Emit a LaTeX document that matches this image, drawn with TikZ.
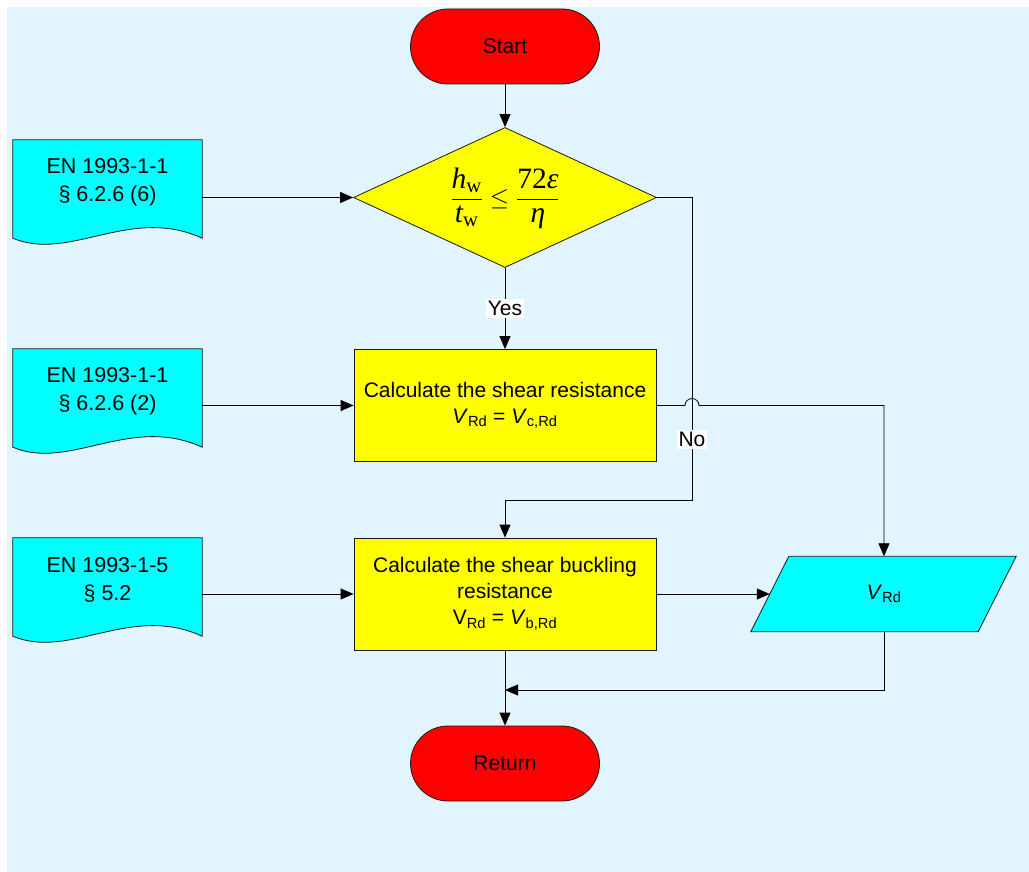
\documentclass[tikz,border=0pt]{standalone}
\usepackage{fontspec}
\usepackage{amsmath}
\setmainfont{Liberation Sans}
\newfontfamily\tnr{Liberation Serif}
\usetikzlibrary{arrows.meta,shapes.geometric,backgrounds}

\definecolor{bgblue}{HTML}{E2F4FE}
\definecolor{termred}{HTML}{FF0000}
\definecolor{procyellow}{HTML}{FFFF00}
\definecolor{doccyan}{HTML}{00FFFF}
\definecolor{edge}{HTML}{1A1A1A}

\tikzset{
  base/.style={font=\fontsize{21}{26}\selectfont, align=center, text=black},
  terminal/.style={base, draw=edge, fill=termred, rectangle, rounded corners=37.5pt,
    minimum width=189pt, minimum height=75pt, line width=0.8pt},
  process/.style={base, draw=edge, fill=procyellow, minimum width=302pt,
    minimum height=112pt, line width=0.8pt},
  decision/.style={diamond, draw=edge, fill=procyellow, minimum width=303pt,
    minimum height=140pt, inner sep=0pt, line width=0.8pt},
  doctext/.style={base, font=\fontsize{21.5}{28}\selectfont, minimum width=189pt,
    minimum height=84pt, inner sep=0pt},
  docshape/.style={draw=edge, fill=doccyan, line width=0.8pt},
  iotext/.style={base, minimum width=228pt, minimum height=75pt, inner sep=0pt},
  flow/.style={draw=black, line width=0.8pt, -{Triangle[length=13pt,width=11pt]}},
  link/.style={draw=black, line width=0.8pt},
  tag/.style={base, fill=white, inner sep=2pt},
}

% document symbol: flat top, wavy bottom edge below the text node
\newcommand\docpath[1]{%
  \path[docshape] (#1.north west) -- (#1.north east)
    -- ([yshift=-14pt]#1.south east)
    .. controls +(-72,-33) and +(57,24) .. ([yshift=-14pt]#1.south west)
    -- cycle;}

\begin{document}
\begin{tikzpicture}[x=1pt, y=-1pt]
  \useasboundingbox (0,0) rectangle (1029,872);

  % terminals, decision and processes
  \node[terminal] (start) at (505,46.5) {Start};
  \node[decision] (dia) at (505,197.5) {};
  \node[font=\fontsize{29.5}{34}\selectfont] (formula) at ([yshift=-1pt]dia.center)
    {$\dfrac{\text{\tnr\itshape h}_{\text{\tnr w}}}{\text{\tnr\itshape t}_{\text{\tnr w}}}
      \leq \dfrac{\text{\tnr 72\itshape ε}}{\text{\tnr\itshape η}}$};
  \node[process] (box1) at (505,405.5)
    {Calculate the shear resistance\\\textit{V}\textsubscript{Rd} = \textit{V}\textsubscript{c,Rd}};
  \node[process] (box2) at (505,594)
    {Calculate the shear buckling\\resistance\\V\textsubscript{Rd} = \textit{V}\textsubscript{b,Rd}};
  \node[terminal] (ret) at (505,763.5) {Return};

  % references to the standard
  \node[doctext] (d1) at (107.5,182) {EN 1993-1-1\\§ 6.2.6 (6)};
  \node[doctext] (d2) at (107.5,391) {EN 1993-1-1\\§ 6.2.6 (2)};
  \node[doctext] (d3) at (107.5,580) {EN 1993-1-5\\§ 5.2};

  % output
  \node[iotext] (out) at (884,594) {\textit{V}\textsubscript{Rd}};

  \coordinate (nx) at (692,500);
  \coordinate (merge) at (505,690);

  \begin{scope}[on background layer]
    \fill[bgblue] (7,7) rectangle (1029,872);
    \docpath{d1}
    \docpath{d2}
    \docpath{d3}
    \path[docshape] ([xshift=19pt]out.north west) -- ([xshift=18pt]out.north east)
      -- ([xshift=-20pt]out.south east) -- ([xshift=-19pt]out.south west) -- cycle;
  \end{scope}

  % connectors
  \draw[flow] (start) -- (dia.north);
  \draw[flow] (d1.east |- dia) -- (dia.west);
  \draw[flow] (dia.south) -- node[tag] (yes) {Yes} (box1.north);
  \draw[flow] (dia.east) -| node[tag, pos=0.9] (no) {No} (nx) -| (box2.north);
  \draw[flow] (d2.east |- box1) -- (box1.west);
  \draw[flow] (box1.east) -- ([xshift=-7pt]box1.east -| nx)
    arc[start angle=180, end angle=0, radius=7pt] -| (out.north);
  \draw[flow] (d3.east |- box2) -- (box2.west);
  \draw[flow] (box2.east) -- (out.west);
  \draw[flow] (box2.south) -- (ret.north);
  \draw[flow] (out.south) |- (merge);
\end{tikzpicture}
\end{document}
